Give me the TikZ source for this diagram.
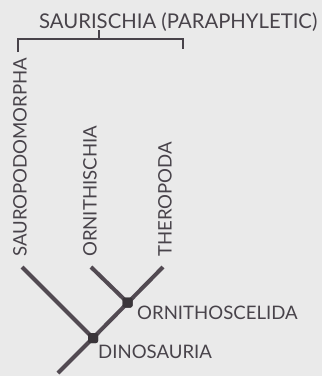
\documentclass[tikz,border=0pt]{standalone}
\usepackage{fontspec}
\setmainfont{Lato}
\definecolor{bgc}{HTML}{EAEAEA}
\definecolor{ink}{HTML}{48434A}
\definecolor{branch}{HTML}{524A52}
\definecolor{dot}{HTML}{3A353A}
\tikzset{
  lbl/.style={inner sep=0pt, text=ink, font=\fontsize{18.6}{19}\selectfont},
  vlbl/.style={lbl, rotate=90, anchor=west},
  br/.style={draw=branch, line width=4pt, line cap=butt},
  brk/.style={draw=ink, line width=1.6pt},
  knot/.style={fill=dot, rounded corners=2pt, minimum size=10pt, inner sep=0pt, draw=none}
}
\begin{document}
\begin{tikzpicture}[x=1pt,y=-1pt]
\fill[bgc] (0,0) rectangle (322,376);
\useasboundingbox (0,0) rectangle (322,376);
% title and bracket
\node[lbl, anchor=base west, font=\fontsize{20.3}{21}\selectfont] (title) at (39,28) {SAURISCHIA (PARAPHYLETIC)};
\coordinate (bl) at (18,52);
\coordinate (blt) at (18,39);
\coordinate (brt) at (183,39);
\coordinate (brb) at (183,49);
\coordinate (bm) at (99,39);
\coordinate (bmt) at (99,30);
\draw[brk] (bl) -- (blt) -- (brt) -- (brb);
\draw[brk] (bm) -- (bmt);
% leaf labels
\node[vlbl] (sauro) at (20,257) {SAUROPODOMORPHA};
\node[vlbl] (ornith) at (90,257) {ORNITHISCHIA};
\node[vlbl] (thero) at (165,257) {THEROPODA};
% tree
\coordinate (ts) at (22,267);
\coordinate (to) at (91,267);
\coordinate (tt) at (163,267);
\coordinate (root) at (58,373);
\node[knot] (orn) at (127.5,302.5) {};
\node[knot] (dino) at (93,338) {};
\draw[br] (ts) -- (dino.center);
\draw[br] (tt) -- (dino.center) -- (root);
\draw[br] (to) -- (orn.center);
\node[knot] at (orn.center) {};
\node[knot] at (dino.center) {};
\node[lbl, anchor=west] (ornlab) at (137,313) {ORNITHOSCELIDA};
\node[lbl, anchor=west] (dinolab) at (98,352) {DINOSAURIA};
\end{tikzpicture}
\end{document}
